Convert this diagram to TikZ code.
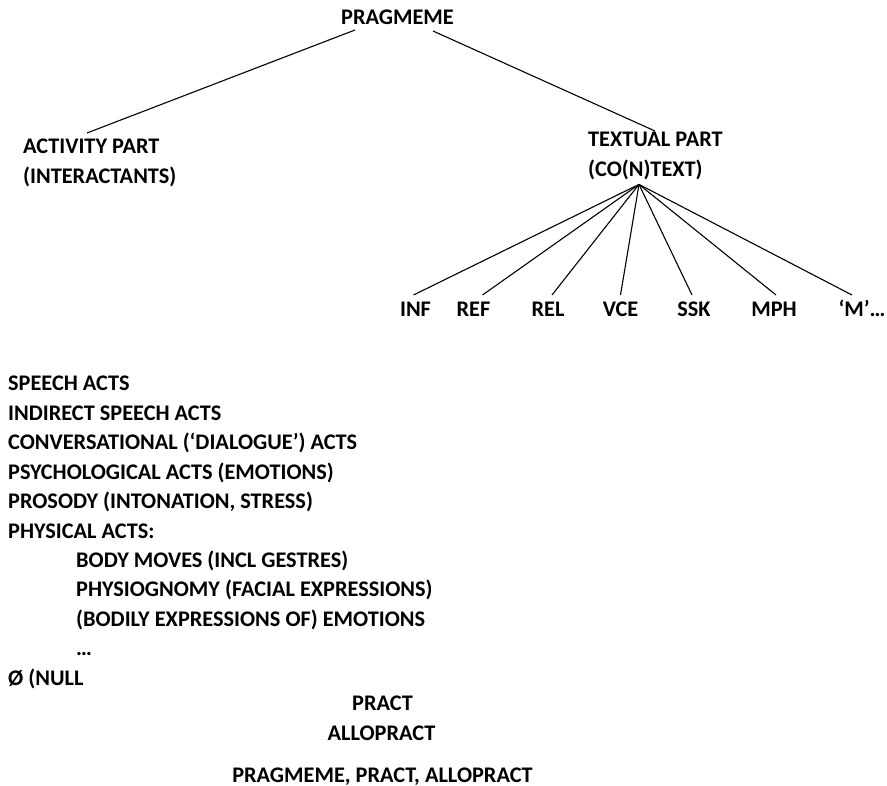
\documentclass[tikz,border=0pt]{standalone}
\usepackage{fontspec}
\setmainfont{Carlito}
\usetikzlibrary{positioning}
\tikzset{
  word/.style={font=\fontsize{22.3}{29}\selectfont\bfseries, inner sep=0pt,
    text height=15pt, text depth=14pt},
  leaf/.style={word, anchor=base},
  branch/.style={draw=black, line width=1.1pt},
}

\begin{document}
\begin{tikzpicture}[x=1pt, y=-1pt, node distance=0pt]
    \useasboundingbox (0,0) rectangle (887,786);
    % tree
    \node[word, anchor=base] (prag) at (397.5,25) {PRAGMEME};
    \node[word, anchor=base west] (act) at (23,154) {ACTIVITY PART};
    \node[word, below=of act.south west, anchor=north west] (inter) {(INTERACTANTS)};
    \node[word, anchor=base west] (textual) at (588,147) {TEXTUAL PART};
    \node[word, below=of textual.south west, anchor=north west] (context) {(CO(N)TEXT)};
    \draw[branch] ([xshift=-42.5pt,yshift=-5pt]prag.base) -- ([xshift=64pt,yshift=21pt]act.base west);
    \draw[branch] ([xshift=35.5pt,yshift=-6pt]prag.base) -- ([xshift=67pt,yshift=16pt]textual.base west);
    \coordinate (apex) at ([xshift=51pt,yshift=-8pt]context.base west);
    \foreach \name/\lbl/\xc/\dx in {inf/INF/415.5/-2, ref/REF/473.5/9, rel/REL/548/4,
        vce/VCE/620.5/0, ssk/SSK/694/-2, mph/MPH/774/2, more/{‘M’…}/862/-10}{
      \node[leaf] (\name) at (\xc,317) {\lbl};
      \draw[branch] (apex) -- ([xshift=\dx pt,yshift=22pt]\name.base);
    }
    % list of acts
    \node[word, anchor=base west] (speech) at (8,391) {SPEECH ACTS};
    \node[word, below=of speech.south west, anchor=north west] (indirect) {INDIRECT SPEECH ACTS};
    \node[word, below=of indirect.south west, anchor=north west] (conv) {CONVERSATIONAL (‘DIALOGUE’) ACTS};
    \node[word, below=of conv.south west, anchor=north west] (psych) {PSYCHOLOGICAL ACTS (EMOTIONS)};
    \node[word, below=of psych.south west, anchor=north west] (prosody) {PROSODY (INTONATION, STRESS)};
    \node[word, below=of prosody.south west, anchor=north west] (phys) {PHYSICAL ACTS:};
    \node[word, below=of phys.south west, anchor=north west, xshift=68pt] (body) {BODY MOVES (INCL GESTRES)};
    \node[word, below=of body.south west, anchor=north west] (physio) {PHYSIOGNOMY (FACIAL EXPRESSIONS)};
    \node[word, below=of physio.south west, anchor=north west] (bodily) {(BODILY EXPRESSIONS OF) EMOTIONS};
    \node[word, below=of bodily.south west, anchor=north west] (dots) {…};
    \node[word, below=of dots.south west, anchor=north west, xshift=-68pt] (null) {Ø (NULL};
    % bottom
    \node[word, anchor=base] (pract) at (382.5,710) {PRACT};
    \node[word, anchor=base] (allo) at (381.5,740) {ALLOPRACT};
    \node[word, anchor=base] (triple) at (382.5,782) {PRAGMEME, PRACT, ALLOPRACT};
\end{tikzpicture}
\end{document}
